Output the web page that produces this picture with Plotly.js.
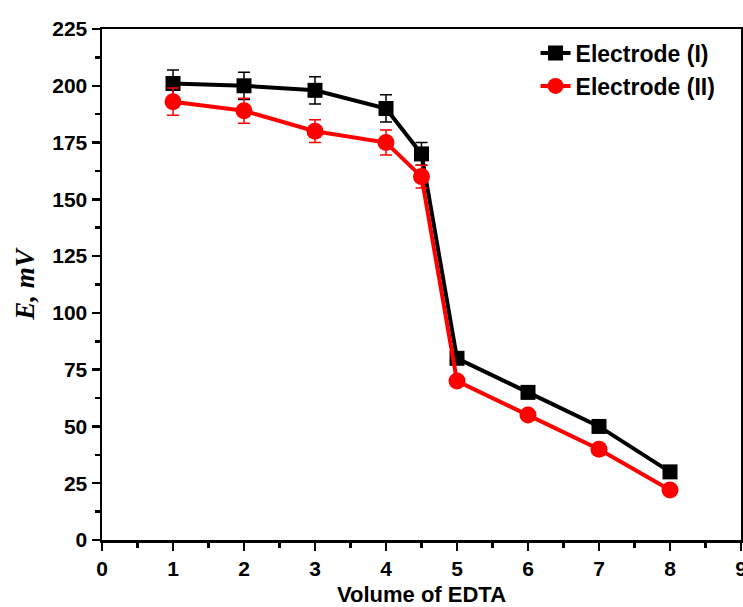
<!DOCTYPE html>
<html>
<head>
<meta charset="utf-8">
<script src="https://cdn.plot.ly/plotly-3.0.1.min.js"></script>
<style>html,body{margin:0;padding:0;background:#fff;}#chart{width:743px;height:607px;}</style>
</head>
<body>
<div id="chart"></div>
<script>
const volume = [1, 2, 3, 4, 4.5, 5, 6, 7, 8];
const electrode1 = [201, 200, 198, 190, 170, 80, 65, 50, 30];
const electrode1Err = [6, 6, 6, 6, 5, 2, 2, 2, 2];
const electrode2 = [193, 189, 180, 175, 160, 70, 55, 40, 22];
const electrode2Err = [6, 5.5, 5, 5.5, 5, 2, 2, 2, 2];
const seriesNames = ["Electrode (I)", "Electrode (II)"];
const xTicks = [0, 1, 2, 3, 4, 5, 6, 7, 8, 9];
const yTicks = [0, 25, 50, 75, 100, 125, 150, 175, 200, 225];

const traces = [
  {
    x: volume, y: electrode1, name: seriesNames[0], type: 'scatter', mode: 'lines+markers',
    line: {color: '#000000', width: 4},
    marker: {symbol: 'square', size: 15, color: '#000000'},
    error_y: {type: 'data', array: electrode1Err, visible: true, color: '#000000', thickness: 1.5, width: 6}
  },
  {
    x: volume, y: electrode2, name: seriesNames[1], type: 'scatter', mode: 'lines+markers',
    line: {color: '#ff0000', width: 4},
    marker: {symbol: 'circle', size: 17, color: '#ff0000'},
    error_y: {type: 'data', array: electrode2Err, visible: true, color: '#ff0000', thickness: 1.5, width: 6}
  }
];

const sans = 'Liberation Sans, Arial, sans-serif';
const tickFont = {family: sans, size: 21, color: '#000', weight: 700};

const layout = {
  width: 743, height: 607,
  margin: {l: 102, r: 2, t: 29, b: 67},
  paper_bgcolor: '#fff', plot_bgcolor: '#fff',
  showlegend: true,
  legend: {
    x: 0.968, y: 0.995, xanchor: 'right', yanchor: 'top',
    bgcolor: 'rgba(0,0,0,0)', borderwidth: 0,
    font: {family: sans, size: 23, color: '#000', weight: 700},
    tracegroupgap: 0
  },
  xaxis: {
    range: [0, 9], tickvals: xTicks, ticktext: xTicks.map(String),
    ticklabeloverflow: 'allow',
    showgrid: false, zeroline: false,
    showline: true, linecolor: '#000', linewidth: 2.5, mirror: true,
    ticks: 'outside', ticklen: 8, tickwidth: 2.5, tickcolor: '#000',
    minor: {dtick: 0.5, ticks: 'outside', ticklen: 5, tickwidth: 2.5, tickcolor: '#000', showgrid: false},
    tickfont: tickFont,
    title: {text: 'Volume of EDTA', font: {family: sans, size: 22, color: '#000', weight: 700}, standoff: 18}
  },
  yaxis: {
    range: [0, 225], tickvals: yTicks, ticktext: yTicks.map(String),
    ticklabeloverflow: 'allow',
    showgrid: false, zeroline: false,
    showline: true, linecolor: '#000', linewidth: 2.5, mirror: true,
    ticks: 'outside', ticklen: 8, tickwidth: 2.5, tickcolor: '#000',
    minor: {dtick: 12.5, ticks: 'outside', ticklen: 5, tickwidth: 2.5, tickcolor: '#000', showgrid: false},
    tickfont: tickFont,
    title: {text: 'E, mV', font: {family: 'Liberation Serif, Times New Roman, serif', size: 27, color: '#000', weight: 700, style: 'italic'}, standoff: 10}
  }
};

Plotly.newPlot('chart', traces, layout, {staticPlot: true, displayModeBar: false});
</script>
</body>
</html>
